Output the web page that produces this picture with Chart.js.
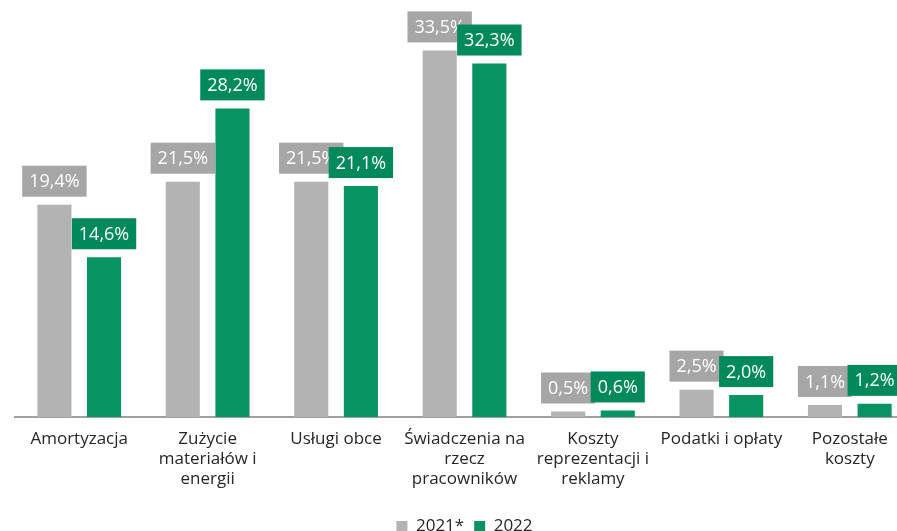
<!DOCTYPE html>
<html>
<head>
<meta charset="utf-8">
<script src="https://cdn.jsdelivr.net/npm/chart.js@4"></script>
<style>
  html, body { margin: 0; padding: 0; background: #fff; overflow: hidden; }
  #wrap { position: relative; width: 940px; height: 545px; }
</style>
</head>
<body>
<div id="wrap"><canvas id="myChart"></canvas></div>
<script>
const categories = [
    ['Amortyzacja'],
    ['Zużycie', 'materiałów i', 'energii'],
    ['Usługi obce'],
    ['Świadczenia na', 'rzecz', 'pracowników'],
    ['Koszty', 'reprezentacji i', 'reklamy'],
    ['Podatki i opłaty'],
    ['Pozostałe', 'koszty']
];
const values2021 = [19.4, 21.5, 21.5, 33.5, 0.5, 2.5, 1.1];
const values2022 = [14.6, 28.2, 21.1, 32.3, 0.6, 2.0, 1.2];
const seriesNames = ['2021*', '2022'];

const FONT = "'Open Sans', sans-serif";

// value boxes above the bars
const valueBoxes = {
    id: 'valueBoxes',
    afterDatasetsDraw(chart) {
        const ctx = chart.ctx;
        ctx.save();
        ctx.font = '18px ' + FONT;
        ctx.textAlign = 'center';
        ctx.textBaseline = 'middle';
        chart.data.datasets.forEach((ds, i) => {
            const meta = chart.getDatasetMeta(i);
            meta.data.forEach((bar, j) => {
                const txt = ds.data[j].toFixed(1).replace('.', ',') + '%';
                const w = ctx.measureText(txt).width + 14;
                const h = 31;
                const bottom = bar.y - 8;
                ctx.fillStyle = ds.labelColor;
                ctx.fillRect(bar.x - w / 2, bottom - h, w, h);
                ctx.fillStyle = '#fff';
                ctx.fillText(txt, bar.x, bottom - h / 2 + 1);
            });
        });
        ctx.restore();
    }
};

let data = {
    labels: categories,
    datasets: [{
        label: seriesNames[0],
        data: values2021,
        backgroundColor: '#b3b3b3',
        labelColor: '#a6a6a6',
        categoryPercentage: 0.773,
        barPercentage: 0.687
    },
    {
        label: seriesNames[1],
        data: values2022,
        backgroundColor: '#079460',
        labelColor: '#00895a',
        categoryPercentage: 0.773,
        barPercentage: 0.687
    }]
};

let config = {
    type: 'bar',
    data,
    options: {
        responsive: true,
        maintainAspectRatio: false,
        animation: false,
        layout: { padding: { left: 15, right: 26, top: 11, bottom: 0 } },
        plugins: {
            tooltip: { enabled: false },
            legend: {
                position: 'bottom',
                labels: {
                    color: '#262626',
                    font: { family: FONT, size: 17 },
                    boxWidth: 11,
                    boxHeight: 11,
                    padding: 10
                }
            }
        },
        scales: {
            x: {
                grid: { display: false },
                border: { display: true, color: '#a0a0a0', width: 2 },
                ticks: {
                    color: '#262626',
                    font: { family: FONT, size: 17, lineHeight: '20px' },
                    padding: 4,
                    maxRotation: 0,
                    autoSkip: false
                },
                // leave room between the category names and the legend
                afterFit(scale) { scale.height += 15; }
            },
            y: {
                display: false,
                min: 0,
                max: 37.1
            }
        }
    },
    plugins: [valueBoxes]
};

const myChart = new Chart(document.getElementById('myChart'), config);
</script>
</body>
</html>
